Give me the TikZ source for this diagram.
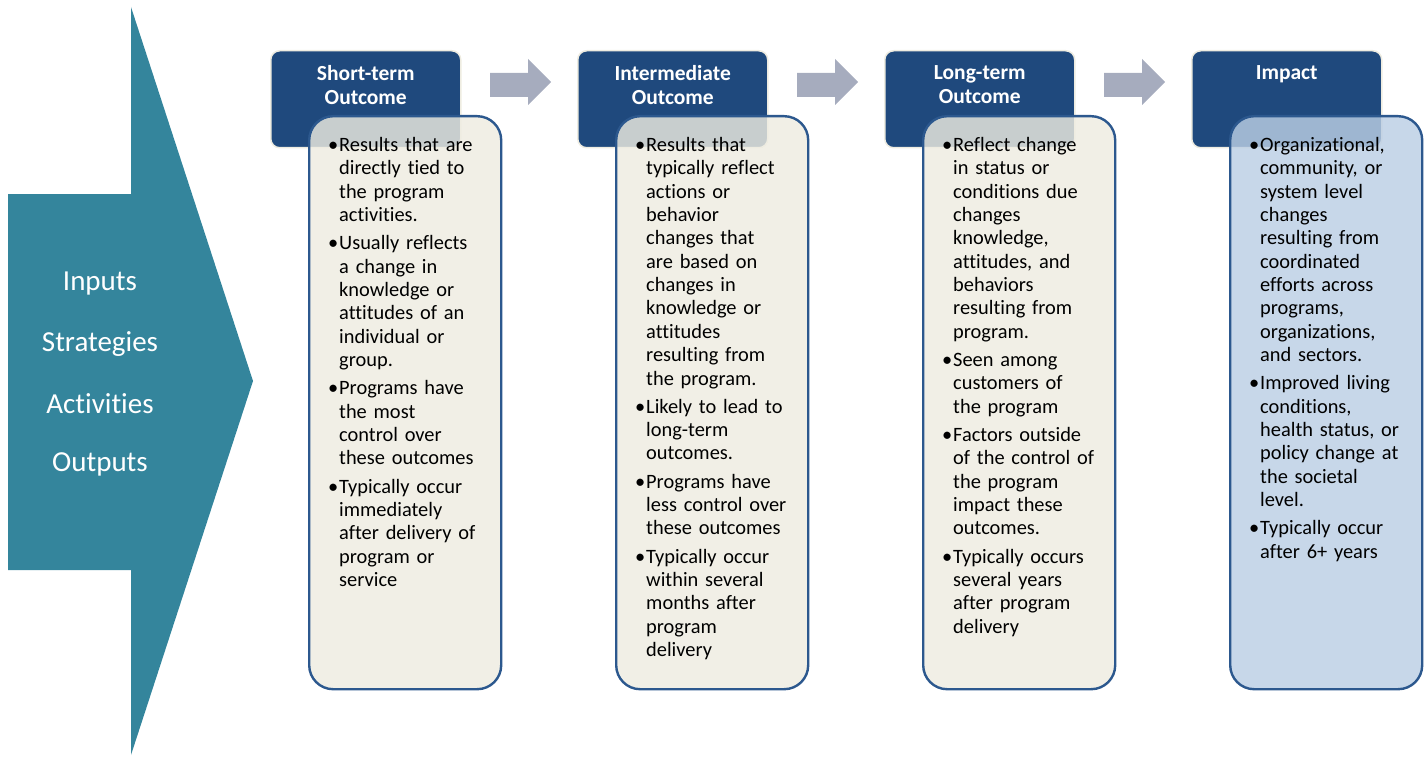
\documentclass[tikz,border=0pt]{standalone}
\usepackage{fontspec}
\setmainfont{Carlito}[Ligatures=NoCommon]
\usetikzlibrary{positioning}
\definecolor{chevteal}{RGB}{52,133,156}
\definecolor{hdrblue}{RGB}{31,73,125}
\definecolor{edgeblue}{RGB}{44,88,142}
\definecolor{boxbeige}{RGB}{238,236,225}
\definecolor{impblue}{RGB}{187,206,228}
\definecolor{arrgrey}{RGB}{166,172,190}
\newcommand\bitem[1]{\noindent\strut\makebox[11pt][l]{\textbullet}\parbox[t]{155pt}{\raggedright\strut #1\strut}\par\vspace{3.9pt}}
\tikzset{
  hdr/.style={draw=boxbeige,line width=1.5pt,fill=hdrblue,rounded corners=9pt,minimum width=190pt,minimum height=97pt,anchor=north west},
  hdrtxt/.style={text=white,font=\bfseries\fontsize{21.5}{24}\selectfont,align=center,inner sep=0pt},
  bodybox/.style={draw=edgeblue,line width=2.4pt,fill=#1,fill opacity=0.82,rounded corners=24pt,minimum width=192pt,minimum height=573pt,anchor=north west},
  bodytxt/.style={text width=168pt,align=left,inner sep=0pt,anchor=north west,font=\fontsize{20.4}{23.35}\selectfont},
  lefttxt/.style={text=white,font=\fontsize{29}{32}\selectfont,inner sep=0pt}
}
\begin{document}
\begin{tikzpicture}[x=1pt,y=-1pt]
\useasboundingbox (0,0) rectangle (1427,757);
% left chevron
\fill[chevteal](8,194)--(131,194)--(131,7)--(253,381)--(131,755)--(131,570)--(8,570)--cycle;
\foreach \t [count=\i] in {Inputs,Strategies,Activities,Outputs}
  \node[lefttxt](left\i) at (100,224+60*\i){\t};
% arrows between the columns
\foreach \dx in {0,307,614}
  \fill[arrgrey,xshift=\dx](490,73)--(528,73)--(528,59)--(551,82)--(528,105)--(528,97)--(490,97)--cycle;
% short-term
\node[hdr](h1) at (270,50){};
\node[hdrtxt,below=15pt of h1.north](t1){Short-term\\Outcome};
\node[bodybox=boxbeige](b1) at (308,115){};
\node[bodytxt](x1) at ([shift={(20pt,-20pt)}]b1.north west){%
\bitem{Results that are\\directly tied to\\the program\\activities.}%
\bitem{Usually reflects\\a change in\\knowledge or\\attitudes of an\\individual or\\group.}%
\bitem{Programs have\\the most\\control over\\these outcomes}%
\bitem{Typically occur\\immediately\\after delivery of\\program or\\service}};
% intermediate
\node[hdr](h2) at (577,50){};
\node[hdrtxt,below=15pt of h2.north](t2){Intermediate\\Outcome};
\node[bodybox=boxbeige](b2) at (615,115){};
\node[bodytxt](x2) at ([shift={(20pt,-20pt)}]b2.north west){%
\bitem{Results that\\typically reflect\\actions or\\behavior\\changes that\\are based on\\changes in\\knowledge or\\attitudes\\resulting from\\the program.}%
\bitem{Likely to lead to\\long-term\\outcomes.}%
\bitem{Programs have\\less control over\\these outcomes}%
\bitem{Typically occur\\within several\\months after\\program\\delivery}};
% long-term
\node[hdr](h3) at (884,50){};
\node[hdrtxt,below=15pt of h3.north](t3){Long-term\\Outcome};
\node[bodybox=boxbeige](b3) at (922,115){};
\node[bodytxt](x3) at ([shift={(20pt,-20pt)}]b3.north west){%
\bitem{Reflect change\\in status or\\conditions due\\changes\\knowledge,\\attitudes, and\\behaviors\\resulting from\\program.}%
\bitem{Seen among\\customers of\\the program}%
\bitem{Factors outside\\of the control of\\the program\\impact these\\outcomes.}%
\bitem{Typically occurs\\several years\\after program\\delivery}};
% impact
\node[hdr](h4) at (1191,50){};
\node[hdrtxt,below=15pt of h4.north](t4){Impact};
\node[bodybox=impblue](b4) at (1229,115){};
\node[bodytxt](x4) at ([shift={(20pt,-20pt)}]b4.north west){%
\bitem{Organizational,\\community, or\\system level\\changes\\resulting from\\coordinated\\efforts across\\programs,\\organizations,\\and sectors.}%
\bitem{Improved living\\conditions,\\health status, or\\policy change at\\the societal\\level.}%
\bitem{Typically occur\\after 6+ years}};
\end{tikzpicture}
\end{document}
